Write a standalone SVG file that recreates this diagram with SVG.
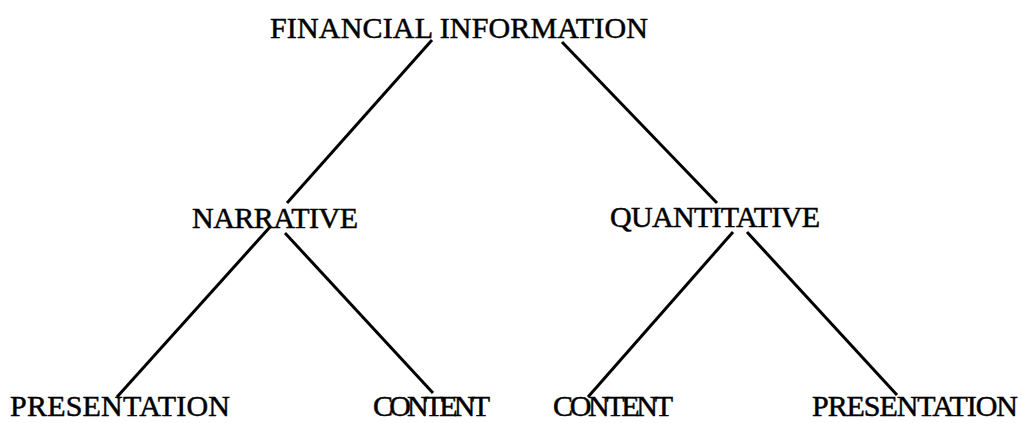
<svg xmlns="http://www.w3.org/2000/svg" width="1023" height="423" viewBox="0 0 1023 423">
<style>
text{font-family:"Liberation Serif","Times New Roman",serif;font-size:30px;fill:#000;stroke:#000;stroke-width:0.5}
.c line{stroke:#000;stroke-width:3;stroke-linecap:butt}
</style>
<rect width="1023" height="423" fill="#fff"/>
<g class="c" id="connectors">
<line x1="432" y1="40" x2="287" y2="203"/>
<line x1="562" y1="42" x2="717" y2="203"/>
<line x1="270" y1="227" x2="117" y2="397"/>
<line x1="285" y1="233" x2="433" y2="393"/>
<line x1="733" y1="232" x2="588" y2="397"/>
<line x1="747" y1="232" x2="897" y2="395"/>
</g>
<g id="financial"><text x="270" y="38" textLength="378">FINANCIAL INFORMATION</text></g>
<g id="narrative"><text x="192" y="228" textLength="166">NARRATIVE</text></g>
<g id="quantitative"><text x="610" y="227" textLength="210">QUANTITATIVE</text></g>
<g id="n-presentation"><text x="10" y="416" textLength="220">PRESENTATION</text></g>
<g id="n-content"><text x="373" y="416" textLength="117">CONTENT</text></g>
<g id="q-content"><text x="553" y="416" textLength="120">CONTENT</text></g>
<g id="q-presentation"><text x="812" y="416" textLength="206">PRESENTATION</text></g>
</svg>
